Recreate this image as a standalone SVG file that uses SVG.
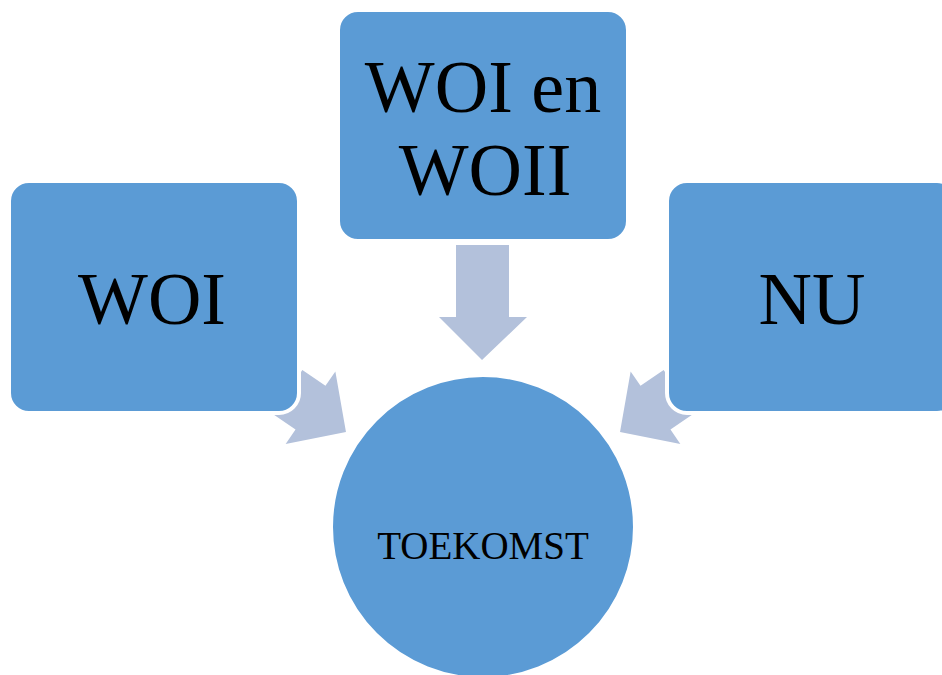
<svg xmlns="http://www.w3.org/2000/svg" width="942" height="675" viewBox="0 0 942 675">
<defs>
<style>
.box{fill:#5B9BD5;stroke:#FFFFFF;stroke-width:4}
.arrow{fill:#B3C1DB;stroke:none}
.big{font-family:"Liberation Serif","DejaVu Serif",serif;font-size:74px;fill:#000;text-anchor:middle}
.small{font-family:"Liberation Serif","DejaVu Serif",serif;font-size:39px;fill:#000;text-anchor:middle}
</style>
<path id="arr" d="M0,-26.5 L28,-26.5 L28,-44 L71,0 L28,44 L28,26.5 L0,26.5 Z"/>
</defs>
<rect width="942" height="675" fill="#FFFFFF"/>
<g id="connectors">
<use href="#arr" class="arrow" transform="translate(287.4,391.9) rotate(34.4)"/>
<use href="#arr" class="arrow" transform="translate(678.6,391.9) rotate(145.6)"/>
<path class="arrow" d="M456,245 L509,245 L509,317 L527,317 L482,360 L439,317 L456,317 Z"/>
</g>
<g id="node-toekomst">
<circle class="box" cx="483" cy="527" r="152"/>
<text class="small" x="483" y="559">TOEKOMST</text>
</g>
<g id="node-woi">
<rect class="box" x="9" y="181" width="290" height="232" rx="20" ry="20"/>
<text class="big" x="152" y="324">WOI</text>
</g>
<g id="node-woi-woii">
<rect class="box" x="338" y="10" width="290" height="231" rx="20" ry="20"/>
<text class="big" x="483" y="112">WOI en</text>
<text class="big" x="485" y="195">WOII</text>
</g>
<g id="node-nu">
<rect class="box" x="667" y="181" width="290" height="232" rx="20" ry="20"/>
<text class="big" x="812" y="324">NU</text>
</g>
</svg>
